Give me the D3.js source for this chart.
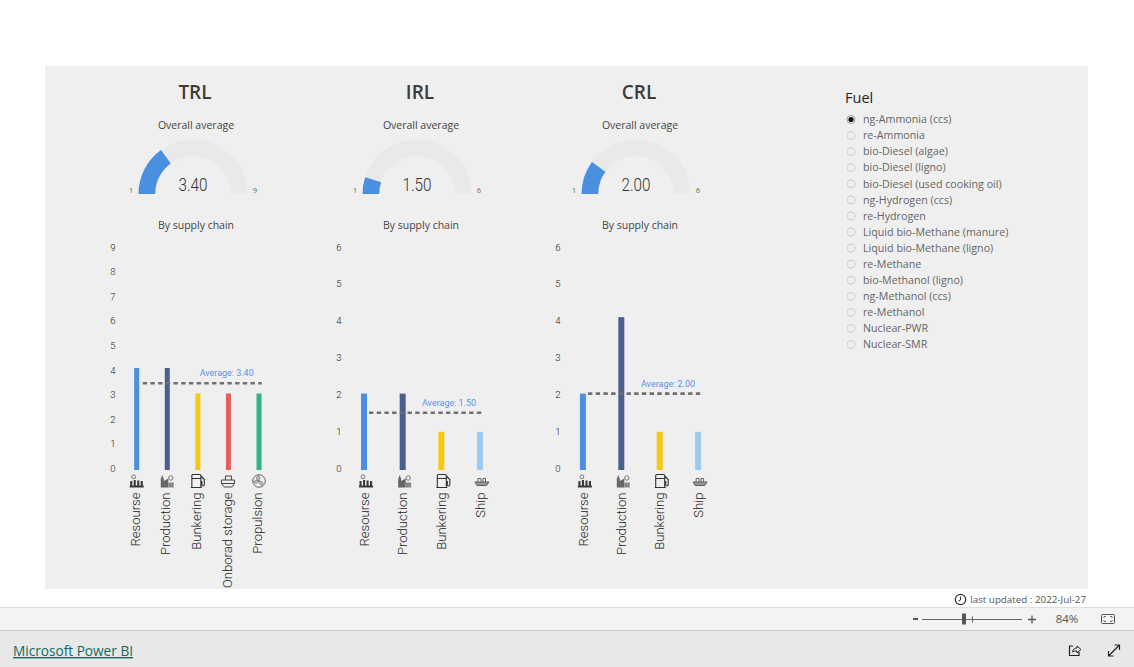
<!DOCTYPE html>
<html><head><meta charset="utf-8">
<script src="https://cdnjs.cloudflare.com/ajax/libs/d3/7.8.5/d3.min.js"></script>
<style>html,body{margin:0;padding:0;background:#fff}svg{display:block}</style>
</head><body><svg id="c" width="1134" height="667" font-family="'Open Sans',sans-serif"></svg>
<script>
const trlCategories=["Resourse","Production","Bunkering","Onborad storage","Propulsion"];
const trlValues=[4,4,3,3,3];
const trlColors=["#4a8fe0","#4a5f8f","#f5c90f","#e45f5b","#2fb383"];
const irlCategories=["Resourse","Production","Bunkering","Ship"];
const irlValues=[2,2,1,1];
const crlCategories=["Resourse","Production","Bunkering","Ship"];
const crlValues=[2,4,1,1];
const shipColors=["#4a8fe0","#4a5f8f","#f5c90f","#9ccbf2"];
const trlTicks=[0,1,2,3,4,5,6,7,8,9];
const rlTicks=[0,1,2,3,4,5,6];
const averages=[3.40,1.50,2.00];
const fuels=["ng-Ammonia (ccs)","re-Ammonia","bio-Diesel (algae)","bio-Diesel (ligno)","bio-Diesel (used cooking oil)","ng-Hydrogen (ccs)","re-Hydrogen","Liquid bio-Methane (manure)","Liquid bio-Methane (ligno)","re-Methane","bio-Methanol (ligno)","ng-Methanol (ccs)","re-Methanol","Nuclear-PWR","Nuclear-SMR"];

const svg=d3.select("#c");
svg.append("rect").attr("x",45).attr("y",66).attr("width",1043).attr("height",523).attr("fill","#efefef");

const iconDraw={
 Resourse:g=>{g.append("path").attr("d","M-7 6.5H7V4.5H-7ZM-6.5 4.5V0H-4.4V4.5ZM-3 4.5V-1H-.9V4.5ZM.5 4.5V-.5H2.6V4.5ZM4 4.5V0H6.1V4.5Z").attr("fill","#3a3a3a");
   g.append("circle").attr("cx",-3).attr("cy",-4.2).attr("r",1.9).attr("fill","none").attr("stroke","#777").attr("stroke-width",1);},
 Production:g=>{g.append("path").attr("d","M-6.5 6.5V-2L-5 -6L-3.5 -2V0L1 -2.5V6.5Z").attr("fill","#666");
   g.append("path").attr("d","M1 6.5V1.5H6.5V6.5Z").attr("fill","#888");
   g.append("circle").attr("cx",3.5).attr("cy",-3).attr("r",2.2).attr("fill","none").attr("stroke","#777").attr("stroke-width",1);},
 Bunkering:g=>{g.append("path").attr("d","M-6 6.5V-5.5Q-6 -6.5 -5 -6.5H2Q3 -6.5 3 -5.5V6.5ZM-6 -2.5H3M-7 6.5H4M3 -5L6.5 -1.5V3.5Q6.5 5 5.3 5Q4 5 4 3.5V.5H3").attr("fill","none").attr("stroke","#333").attr("stroke-width",1.1);},
 "Onborad storage":g=>{g.append("path").attr("d","M-7 -1H6V2.5L3.5 6H-4L-7 2.5ZM-3 -1V-5H3V-1M-7 2.5H6").attr("fill","none").attr("stroke","#444").attr("stroke-width",1);},
 Propulsion:g=>{g.append("circle").attr("r",6.3).attr("fill","none").attr("stroke","#666");
   g.append("path").attr("d","M0 0C-4 -1 -3 -5 0 -5.3C1 -3 1 -1 0 0C4 0 5 3 3 4.6C1 4 0 2 0 0C-2 3 -5 3 -5.5 .5C-3 -1 -1 -1 0 0Z").attr("fill","#bbb").attr("stroke","#666").attr("stroke-width",.6);},
 Ship:g=>{g.append("path").attr("d","M-7 1H7L4.5 4.5H-5Z").attr("fill","#999").attr("stroke","#444").attr("stroke-width",.8);
   g.append("path").attr("d","M-4 1V-2.5H-1V1M1 1V-2.5H3.5V1").attr("fill","none").attr("stroke","#555").attr("stroke-width",.9);}
};

function panel(o){
 const g=svg.append("g");
 g.append("text").attr("x",o.cx).attr("y",99).attr("text-anchor","middle").attr("font-size",19).attr("font-weight",600).attr("fill","#3c3c3c").text(o.title);
 g.append("text").attr("x",o.cx+1).attr("y",129).attr("text-anchor","middle").attr("font-size",10.5).attr("fill","#444").text("Overall average");
 g.append("text").attr("x",o.cx+1).attr("y",229).attr("text-anchor","middle").attr("font-size",10.5).attr("fill","#444").text("By supply chain");
 const frac=d3.scaleLinear().domain([1,o.max]).range([-Math.PI/2,Math.PI/2]);
 const arc=d3.arc().innerRadius(37.8).outerRadius(54.5);
 const gg=g.append("g").attr("transform",`translate(${o.gx},194)`);
 gg.append("path").attr("d",arc({startAngle:-Math.PI/2,endAngle:Math.PI/2})).attr("fill","#e9e9e9");
 gg.append("path").attr("d",arc({startAngle:-Math.PI/2,endAngle:frac(o.avg)})).attr("fill","#4a8fe0");
 gg.append("text").attr("y",-3).attr("text-anchor","middle").attr("font-family","Roboto").attr("font-weight",300).attr("font-size",18).attr("fill","#333").attr("textLength",29).attr("lengthAdjust","spacingAndGlyphs").text(o.avg.toFixed(2));
 gg.append("text").attr("x",-62).attr("y",-1).attr("text-anchor","middle").attr("font-family","Roboto").attr("font-size",8).attr("fill","#5a8a5a").text("1");
 gg.append("text").attr("x",62).attr("y",-1).attr("text-anchor","middle").attr("font-family","Roboto").attr("font-size",8).attr("fill",o.maxColor).text(o.max);
 const yTick=d3.scaleLinear().domain([0,o.max]).range([468.5,247]);
 const yBar=d3.scaleLinear().domain([0,o.max]).range([470,470-o.unit*o.max]);
 const x=d3.scaleBand().domain(o.cats).range(o.xr);
 const axis=d3.axisLeft(yTick).tickValues(o.ticks).tickSize(0).tickPadding(0).tickFormat(d3.format("d"));
 const ag=g.append("g").attr("transform",`translate(${o.tickX},0)`).call(axis);
 ag.select(".domain").remove();
 ag.selectAll("text").attr("font-family","Roboto").attr("font-weight",300).attr("font-size",9.5).attr("fill","#222").attr("text-anchor","middle").attr("dy","0.32em");
 g.selectAll("rect.bar").data(o.vals).join("rect").attr("class","bar")
  .attr("x",(d,i)=>x(o.cats[i])+x.bandwidth()/2-o.bw/2).attr("width",o.bw)
  .attr("y",d=>yBar(d)).attr("height",d=>yBar(0)-yBar(d)).attr("fill",(d,i)=>o.colors[i]);
 const ya=yBar(o.avg);
 g.append("line").attr("x1",o.lx[0]).attr("x2",o.lx[1]).attr("y1",ya).attr("y2",ya).attr("stroke","#707070").attr("stroke-width",2.6).attr("stroke-dasharray","4.4 3.3");
 g.append("text").attr("x",o.lx[1]-8).attr("y",ya-7).attr("text-anchor","end").attr("font-family","Roboto").attr("font-size",8.5).attr("fill","#5b8fe8").attr("textLength",54).attr("lengthAdjust","spacingAndGlyphs").text("Average: "+o.avg.toFixed(2));
 o.cats.forEach((c,i)=>{
  const cx=x(c)+x.bandwidth()/2;
  iconDraw[c](g.append("g").attr("transform",`translate(${cx+o.iconDx},481)`));
  g.append("text").attr("transform",`translate(${cx+o.labelDx},492.5) rotate(-90)`).attr("text-anchor","end").attr("dy","0.36em")
   .attr("font-family","Roboto").attr("font-weight",300).attr("font-size",13.1).attr("fill","#222").text(c);
 });
}
panel({title:"TRL",cx:195,gx:193,avg:averages[0],max:9,maxColor:"#5a8a5a",cats:trlCategories,vals:trlValues,colors:trlColors,ticks:trlTicks,xr:[121.4,274.3],unit:25.5,tickX:113,bw:5,lx:[142.7,261.7],iconDx:0,labelDx:-1.5});
panel({title:"IRL",cx:420,gx:417,avg:averages[1],max:6,maxColor:"#b5654a",cats:irlCategories,vals:irlValues,colors:shipColors,ticks:rlTicks,xr:[344.7,499.3],unit:38.2,tickX:339,bw:6,lx:[369,484],iconDx:2,labelDx:0});
panel({title:"CRL",cx:639,gx:636,avg:averages[2],max:6,maxColor:"#5a8a5a",cats:crlCategories,vals:crlValues,colors:shipColors,ticks:rlTicks,xr:[563.7,717.3],unit:38.2,tickX:558,bw:6,lx:[588,703],iconDx:2,labelDx:0});

svg.append("text").attr("x",845).attr("y",103).attr("font-size",14.5).attr("fill","#222").text("Fuel");
const ly=d3.scalePoint().domain(fuels).range([119.5,344.5]);
const li=svg.selectAll("g.li").data(fuels).join("g").attr("class","li").attr("transform",d=>`translate(0,${ly(d)})`);
li.append("circle").attr("cx",851).attr("r",4).attr("fill","none").attr("stroke",(d,i)=>i?"#cfcfcf":"#999");
li.filter((d,i)=>i===0).append("circle").attr("cx",851).attr("r",2.6).attr("fill","#111");
li.append("text").attr("x",863).attr("dy","0.35em").attr("font-size",10.7).attr("fill","#666").text(d=>d);

const f=svg.append("g");
f.append("circle").attr("cx",960.5).attr("cy",599.5).attr("r",5.2).attr("fill","none").attr("stroke","#333").attr("stroke-width",1.2);
f.append("path").attr("d","M960.5 596.5V600L958.5 601").attr("fill","none").attr("stroke","#333");
f.append("text").attr("x",1086).attr("y",603).attr("text-anchor","end").attr("font-size",9.8).attr("fill","#555").text("last updated : 2022-Jul-27");
f.append("rect").attr("x",0).attr("y",607).attr("width",1134).attr("height",24).attr("fill","#f3f3f3");
f.append("rect").attr("x",0).attr("y",607).attr("width",1134).attr("height",1).attr("fill","#dedede");
f.append("rect").attr("x",0).attr("y",630).attr("width",1134).attr("height",37).attr("fill","#e8e8e8");
f.append("rect").attr("x",0).attr("y",630).attr("width",1134).attr("height",1).attr("fill","#c8c8c8");
f.append("text").attr("x",13).attr("y",656).attr("font-size",14).attr("fill","#0f6b62").attr("text-decoration","underline").attr("textLength",120).attr("lengthAdjust","spacingAndGlyphs").text("Microsoft Power BI");
f.append("rect").attr("x",913).attr("y",618).attr("width",5).attr("height",2).attr("fill","#555");
f.append("rect").attr("x",922).attr("y",619).attr("width",100).attr("height",1).attr("fill","#666");
f.append("rect").attr("x",962).attr("y",613.5).attr("width",4).attr("height",11).attr("fill","#555");
f.append("rect").attr("x",972).attr("y",616.5).attr("width",1).attr("height",6).attr("fill","#666");
f.append("path").attr("d","M1028 619.5H1036M1032 615.5V623.5").attr("stroke","#555").attr("stroke-width",1.3);
f.append("text").attr("x",1067).attr("y",623).attr("text-anchor","middle").attr("font-size",11.5).attr("fill","#555").text("84%");
f.append("rect").attr("x",1101.5).attr("y",614.5).attr("width",13).attr("height",9).attr("rx",1).attr("fill","none").attr("stroke","#555");
f.append("path").attr("d","M1104 618V616.5H1106M1112 618V616.5H1110M1104 620V621.5H1106M1112 620V621.5H1110").attr("fill","none").attr("stroke","#555").attr("stroke-width",.8);
f.append("path").attr("d","M1073 646H1069.5V655.5H1079V652").attr("fill","none").attr("stroke","#222").attr("stroke-width",1.2);
f.append("path").attr("d","M1072.5 652C1073 649 1075 648 1077 648V646L1081 649.5L1077 653V651C1075.5 651 1074 651 1072.5 652Z").attr("fill","none").attr("stroke","#222").attr("stroke-width",1);
f.append("path").attr("d","M1108.5 656L1119.5 645M1114.5 645H1119.5V650M1108.5 651V656H1113.5").attr("fill","none").attr("stroke","#222").attr("stroke-width",1.2);
</script></body></html>
